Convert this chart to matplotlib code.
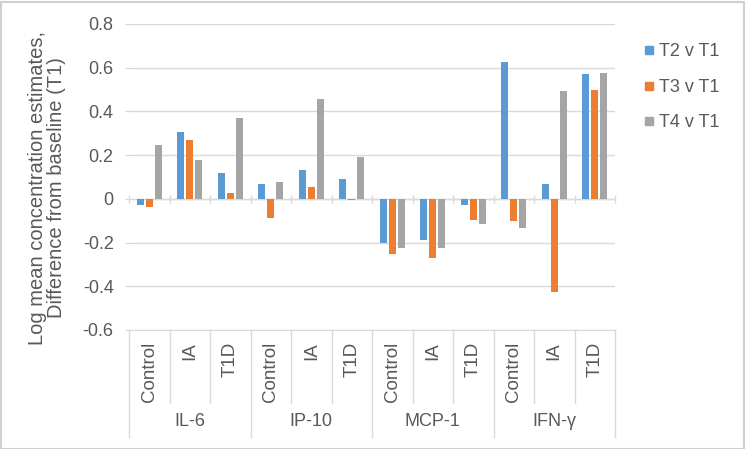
import numpy as np
import matplotlib.pyplot as plt
from matplotlib.lines import Line2D
from matplotlib.patches import Rectangle

plt.rcParams['font.family'] = ['Liberation Sans', 'DejaVu Sans']

# Data
markers = ["IL-6", "IP-10", "MCP-1", "IFN-γ"]
groups = ["Control", "IA", "T1D"]
series_names = ["T2 v T1", "T3 v T1", "T4 v T1"]
t2_v_t1 = [-0.03, 0.305, 0.12, 0.067, 0.134, 0.093, -0.20, -0.188, -0.029, 0.624, 0.067, 0.569]
t3_v_t1 = [-0.038, 0.27, 0.026, -0.089, 0.056, -0.006, -0.252, -0.269, -0.096, -0.10, -0.427, 0.498]
t4_v_t1 = [0.247, 0.179, 0.369, 0.079, 0.456, 0.192, -0.227, -0.223, -0.115, -0.133, 0.493, 0.574]

colors = ["#5B9BD5", "#ED7D31", "#A5A5A5"]
text_col = "#595959"
line_col = "#D9D9D9"
fs = 13

W, H = 745, 449
fig = plt.figure(figsize=(W / 100, H / 100), dpi=100)
ax = fig.add_axes([129 / W, (H - 330) / H, (615 - 129) / W, (330 - 24) / H])

n = len(markers) * len(groups)
x = np.arange(n)
width = 0.165
offsets = [-0.22, 0.0, 0.22]
for vals, off, c, name in zip([t2_v_t1, t3_v_t1, t4_v_t1], offsets, colors, series_names):
    ax.bar(x + off, vals, width, color=c, label=name, zorder=3)

ax.set_xlim(-0.5, n - 0.5)
ax.set_ylim(-0.6, 0.8)
ax.set_yticks(np.arange(-0.6, 0.81, 0.2))
ax.set_yticklabels(["-0.6", "-0.4", "-0.2", "0", "0.2", "0.4", "0.6", "0.8"])
ax.tick_params(axis='y', length=3, color=line_col, labelsize=fs, labelcolor=text_col, pad=8)
ax.set_xticks([])
ax.yaxis.grid(True, color=line_col, linewidth=1, zorder=0)
for s in ["top", "right", "left"]:
    ax.spines[s].set_visible(False)
ax.spines["bottom"].set_color(line_col)

# zero axis with tick marks at category boundaries
ax.axhline(0, color=line_col, linewidth=1, zorder=2)
bounds = np.arange(n + 1) - 0.5
ax.plot(bounds, np.zeros_like(bounds), linestyle='none', marker='|', markersize=6,
        color=line_col, zorder=2, clip_on=False)

# multi-level category table below the plot
trans = ax.get_xaxis_transform()
for k, b in enumerate(bounds):
    bottom = -0.35 if k % 3 == 0 else -0.239
    ax.plot([b, b], [0, bottom], color=line_col, linewidth=1, transform=trans, clip_on=False)
for i in range(n):
    ax.text(i, -0.04, groups[i % 3], rotation=90, ha='center', va='top', transform=trans,
            fontsize=13.5, color=text_col)
for j, m in enumerate(markers):
    ax.text(3 * j + 1, -0.298, m, ha='center', va='center', transform=trans,
            fontsize=fs, color=text_col)

fig.text(47 / W, 1 - 188 / H, "Log mean concentration estimates,\nDifference from baseline (T1)",
         rotation=90, ha='center', va='center', multialignment='center',
         fontsize=14.5, color=text_col, linespacing=1.0)

handles = [Line2D([], [], linestyle='none', marker='s', markersize=6, color=c) for c in colors]
fig.legend(handles, series_names, loc='upper left', bbox_to_anchor=(636 / W, 1 - 36 / H),
           frameon=False, fontsize=fs, labelcolor=text_col, handlelength=0.6,
           handletextpad=0.3, labelspacing=1.03, borderaxespad=0)

fig.patches.append(Rectangle((0.5 / W, 0.5 / H), 1 - 2 / W, 1 - 2 / H, transform=fig.transFigure,
                             fill=False, edgecolor="#D0D0D0", linewidth=1.5))

fig.savefig("out.png", dpi=100)
